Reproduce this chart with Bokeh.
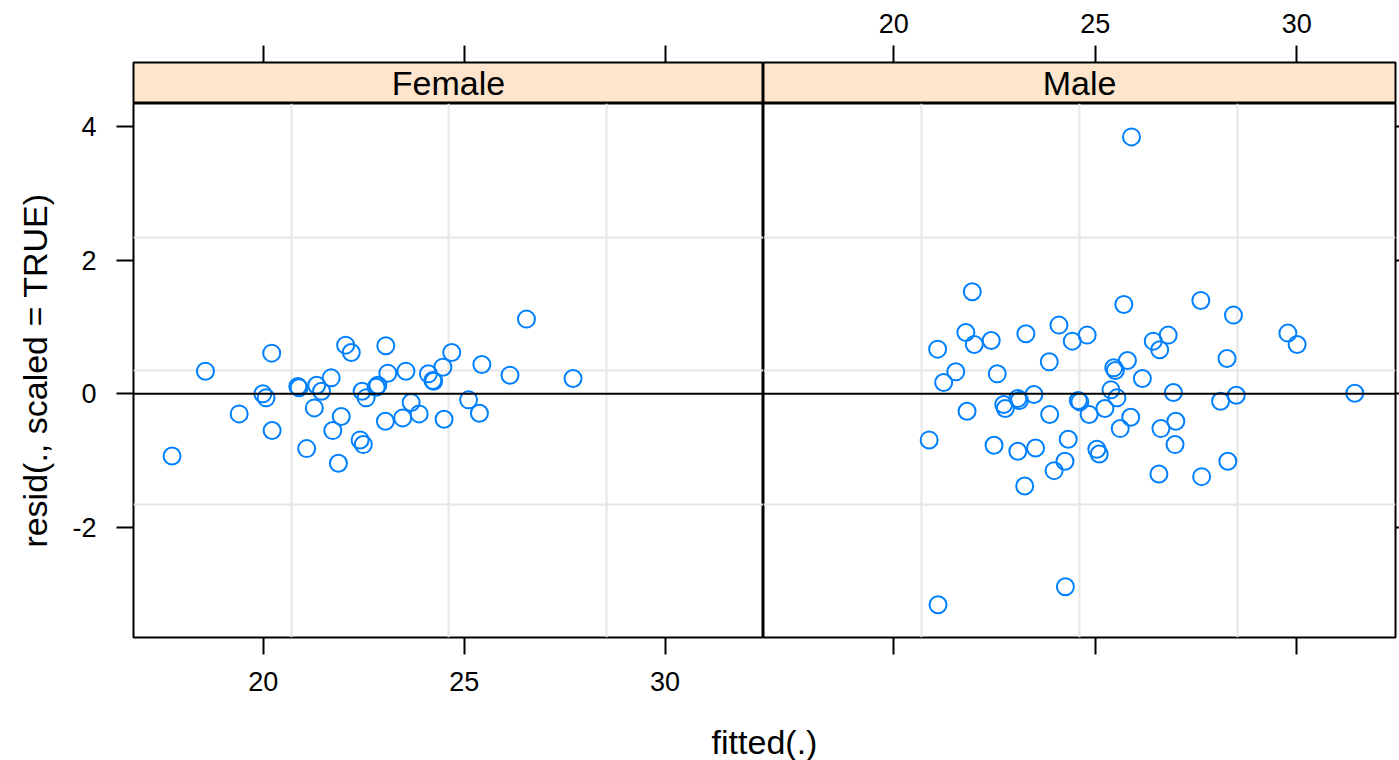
from bokeh.plotting import figure
from bokeh.layouts import row, column
from bokeh.models import (Range1d, LinearAxis, FixedTicker, Span, Grid,
                          PrintfTickFormatter)
from bokeh.core.properties import value
from bokeh.embed import file_html
from bokeh.resources import INLINE

# ---------------- data ----------------
panels = ["Female", "Male"]

fem_fitted = [17.73, 18.56, 19.40, 20.21, 19.99, 20.07, 20.22, 20.86, 20.89, 21.08,
              21.33, 21.45, 21.27, 21.69, 21.73, 21.94, 21.87, 22.05, 22.19, 22.46,
              22.56, 22.41, 22.49, 23.05, 23.10, 22.85, 22.81, 23.55, 23.04, 23.47,
              23.68, 23.88, 24.11, 24.22, 24.24, 24.47, 24.69, 24.50, 25.11, 25.38,
              25.44, 26.14, 26.55, 27.71]
fem_resid = [-0.93, 0.34, -0.30, 0.61, 0.00, -0.06, -0.55, 0.11, 0.09, -0.82,
             0.13, 0.04, -0.21, 0.24, -0.55, -0.34, -1.04, 0.73, 0.62, 0.04,
             -0.06, -0.69, -0.76, 0.72, 0.31, 0.13, 0.10, 0.34, -0.41, -0.36,
             -0.13, -0.30, 0.30, 0.20, 0.19, 0.40, 0.62, -0.38, -0.09, -0.29,
             0.44, 0.28, 1.12, 0.23]

male_fitted = [21.95, 21.79, 22.00, 22.42, 21.09, 23.28, 24.10, 21.54, 21.24, 22.57,
               23.86, 22.73, 22.77, 23.08, 23.12, 23.48, 21.82, 23.87, 20.88, 22.49,
               23.08, 23.52, 23.98, 23.25, 24.43, 24.80, 25.71, 27.62, 26.44, 26.60,
               26.81, 25.80, 25.46, 25.50, 26.17, 25.39, 25.54, 24.58, 24.62, 24.85,
               25.24, 26.94, 25.88, 25.62, 27.00, 26.63, 26.98, 24.33, 25.04, 25.10,
               24.25, 26.58, 27.64, 28.43, 29.78, 30.01, 28.27, 28.50, 28.11, 31.44,
               28.29, 21.10, 24.26, 25.90]
male_resid = [1.53, 0.92, 0.74, 0.80, 0.67, 0.90, 1.03, 0.33, 0.17, 0.30,
              0.48, -0.16, -0.22, -0.07, -0.10, -0.01, -0.26, -0.31, -0.69, -0.77,
              -0.86, -0.81, -1.15, -1.38, 0.79, 0.88, 1.34, 1.40, 0.79, 0.66,
              0.88, 0.50, 0.39, 0.35, 0.23, 0.06, -0.06, -0.10, -0.12, -0.31,
              -0.22, 0.02, -0.35, -0.52, -0.41, -0.52, -0.76, -0.68, -0.83, -0.90,
              -1.01, -1.20, -1.24, 1.18, 0.91, 0.74, 0.53, -0.02, -0.11, 0.01,
              -1.01, -3.16, -2.89, 3.85]

x_ticks = [20, 25, 30]
y_ticks = [-2, 0, 2, 4]
x_label = "fitted(.)"
y_label = "resid(., scaled = TRUE)"

# ---------------- style ----------------
XLIM = (16.77, 32.45)
YLIM = (-3.65, 4.35)
FONT = "Liberation Sans"
BLUE = "#0080ff"
STRIP = "#ffe5cc"
GRID = "#e6e6e6"
TICK_FS = "27px"
LAB_FS = "34px"

x_range = Range1d(*XLIM)
y_range = Range1d(*YLIM)

grid_x = [XLIM[0] + k * (XLIM[1] - XLIM[0]) / 4 for k in (1, 2, 3)]
grid_y = [YLIM[0] + k * (YLIM[1] - YLIM[0]) / 4 for k in (1, 2, 3)]

W_F, W_M = 763, 636
LEFT, RIGHT = 133, 4
TOP = 62
STRIP_H = 103
PANEL_H = 600
BOTTOM = 66
LAB_H = 57


def make_axis(ticks, labels=True, tick_out=17, standoff=12):
    ax = LinearAxis(ticker=FixedTicker(ticks=ticks, minor_ticks=[]),
                    formatter=PrintfTickFormatter(format="%d"))
    ax.axis_line_color = None
    ax.major_tick_line_color = "black"
    ax.major_tick_line_width = 2
    ax.major_tick_out = tick_out
    ax.major_tick_in = 0
    ax.minor_tick_line_color = None
    ax.major_label_text_font = FONT
    ax.major_label_text_font_size = TICK_FS if labels else "0px"
    ax.major_label_text_color = "black" if labels else None
    ax.major_label_standoff = standoff
    ax.axis_label_text_font = FONT
    ax.axis_label_text_font_size = LAB_FS
    ax.axis_label_text_font_style = "normal"
    ax.axis_label_text_color = "black"
    return ax


def strip_fig(name, width, left, right, show_labels):
    p = figure(width=width, height=STRIP_H, x_range=x_range, y_range=Range1d(0, 1),
               x_axis_type=None, y_axis_type=None,
               toolbar_location=None, output_backend="svg",
               min_border_left=left, min_border_right=right,
               min_border_top=TOP, min_border_bottom=0,
               background_fill_color=STRIP, border_fill_color="white")
    p.outline_line_color = "black"
    p.outline_line_width = 2
    p.xgrid.visible = False
    p.ygrid.visible = False
    p.add_layout(make_axis(x_ticks, labels=show_labels, standoff=13), "above")
    p.text(x=[(XLIM[0] + XLIM[1]) / 2], y=[0.5], text=[name],
           text_font=value(FONT), text_font_size=LAB_FS, text_color="black",
           text_align="center", text_baseline="middle")
    return p


def panel_fig(width, left, right, fx, fy):
    p = figure(width=width, height=PANEL_H, x_range=x_range, y_range=y_range,
               x_axis_type=None, y_axis_type=None,
               toolbar_location=None, output_backend="svg",
               min_border_left=left, min_border_right=right,
               min_border_top=0, min_border_bottom=BOTTOM,
               background_fill_color="white", border_fill_color="white")
    p.outline_line_color = "black"
    p.outline_line_width = 2
    p.add_layout(Grid(dimension=0, ticker=FixedTicker(ticks=grid_x, minor_ticks=[]),
                      grid_line_color=GRID, grid_line_width=2))
    p.add_layout(Grid(dimension=1, ticker=FixedTicker(ticks=grid_y, minor_ticks=[]),
                      grid_line_color=GRID, grid_line_width=2))
    p.add_layout(Span(location=0, dimension="width", line_color="black", line_width=2))
    p.scatter(fx, fy, marker="circle", size=17, fill_color=None,
              line_color=BLUE, line_width=2)
    return p


# strips
s_f = strip_fig(panels[0], W_F, LEFT, 0, False)
s_m = strip_fig(panels[1], W_M, 0, RIGHT, True)

# panels
p_f = panel_fig(W_F, LEFT, 0, fem_fitted, fem_resid)
p_f.add_layout(make_axis(x_ticks, labels=True, standoff=17), "below")
ax_l = make_axis(y_ticks, labels=True, standoff=20)
ax_l.axis_label = y_label
ax_l.axis_label_standoff = 15
p_f.add_layout(ax_l, "left")

p_m = panel_fig(W_M, 0, RIGHT, male_fitted, male_resid)
p_m.add_layout(make_axis(x_ticks, labels=False, standoff=17), "below")
p_m.add_layout(make_axis(y_ticks, labels=False, tick_out=4, standoff=0), "right")

# x label
lab = figure(width=W_F + W_M, height=LAB_H, x_range=Range1d(0, 1), y_range=Range1d(0, 1),
             x_axis_type=None, y_axis_type=None, toolbar_location=None,
             output_backend="svg", min_border_left=LEFT, min_border_right=RIGHT,
             min_border_top=0, min_border_bottom=0)
lab.outline_line_color = None
lab.xgrid.visible = False
lab.ygrid.visible = False
lab.text(x=[0.5], y=[0.33], text=[x_label], text_font=value(FONT),
         text_font_size=LAB_FS, text_color="black",
         text_align="center", text_baseline="middle")

layout = column(row(s_f, s_m, spacing=0), row(p_f, p_m, spacing=0), lab, spacing=0)

open("out.html", "w").write(file_html(layout, INLINE))
